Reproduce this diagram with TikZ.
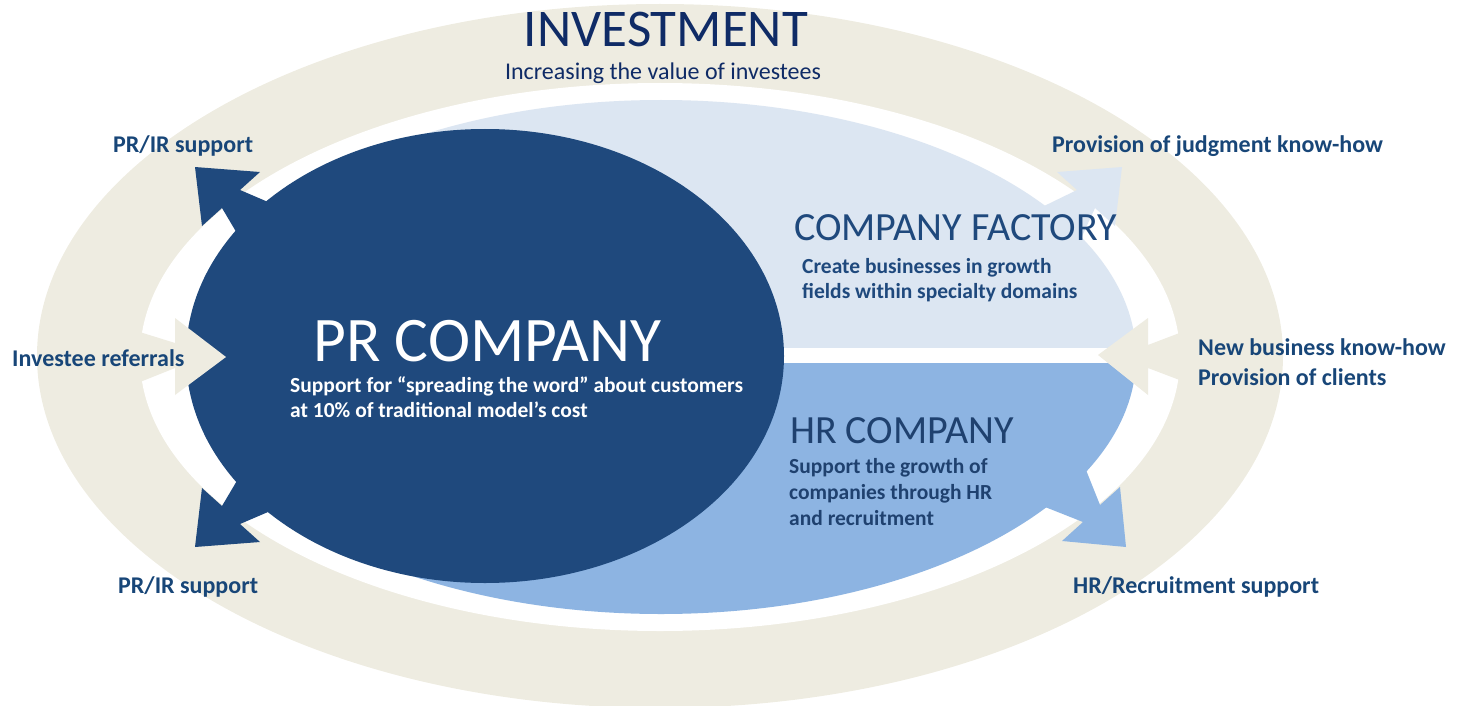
\documentclass[tikz,border=0pt]{standalone}
\usepackage{fontspec}
\setmainfont{Carlito}
\definecolor{beige}{HTML}{EEECE1}
\definecolor{darkblue}{HTML}{1F497D}
\definecolor{lightblue}{HTML}{DCE6F2}
\definecolor{medblue}{HTML}{8DB4E2}
\definecolor{navy}{HTML}{0F2B66}
\definecolor{labelblue}{HTML}{184678}
\definecolor{innertext}{HTML}{1F497D}
\definecolor{hrtext}{HTML}{1F416F}
\begin{document}
\begin{tikzpicture}[x=1pt,y=-1pt,
  lbl/.style={font=\bfseries\fontsize{24}{28}\selectfont, text=labelblue, inner sep=0pt, anchor=base west},
  body/.style={font=\bfseries\fontsize{21.5}{26}\selectfont, inner sep=0pt, anchor=base west},
  head/.style={font=\fontsize{40}{44}\selectfont, inner sep=0pt, anchor=base west},
]
\useasboundingbox (0,0) rectangle (1461,706);
% outer ring
\fill[beige] (660,356) ellipse [x radius=623pt, y radius=352pt];
\fill[white] (660,357) ellipse [x radius=520pt, y radius=274pt];
% inner split ellipse
\begin{scope}
  \clip (661,357) ellipse [x radius=475pt, y radius=257pt];
  \fill[medblue] (0,357) rectangle (1461,706);
  \fill[lightblue] (0,0) rectangle (1461,357);
  \fill[white] (600,348) rectangle (1461,363);
\end{scope}
% PR company ellipse
\fill[darkblue] (485,356) ellipse [x radius=299pt, y radius=227pt];
% dark arrows (left)
\fill[darkblue] (195,167) -- (260,172) -- (240,190) -- (268,202) -- (238,235) -- (222,208) -- (202,226) -- cycle;
\fill[darkblue] (195,547) -- (260,542) -- (240,524) -- (268,512) -- (238,479) -- (222,506) -- (202,488) -- cycle;
% light arrow (top right)
\fill[lightblue] (1122,167) -- (1057,172) -- (1077,190) -- (1040,208) -- (1060,240) -- (1078,245) -- (1095,208) -- (1115,226) -- cycle;
% medium arrow (bottom right)
\fill[medblue] (1126,547) -- (1062,541) -- (1083,522) -- (1040,505) -- (1060,474) -- (1084,465) -- (1100,505) -- (1120,487) -- cycle;
% beige arrows
\fill[beige] (1098,355) -- (1148,318) -- (1148,345) -- (1190,329) -- (1190,384) -- (1148,368) -- (1148,395) -- cycle;
\fill[beige] (226,357) -- (175,318) -- (175,343) -- (130,329) -- (130,386) -- (175,368) -- (175,395) -- cycle;
% titles
\node[font=\fontsize{53}{56}\selectfont, text=navy, inner sep=0pt, anchor=base] (inv) at (666,47) {INVESTMENT};
\node[font=\fontsize{24}{28}\selectfont, text=navy, inner sep=0pt, anchor=base] (invsub) at (663,80) {Increasing the value of investees};
% outer labels
\node[lbl] (prir1) at (113,153) {PR/IR support};
\node[lbl] (judg) at (1052,153) {Provision of judgment know-how};
\node[lbl] (refer) at (12,366) {Investee referrals};
\node[lbl] (newbiz) at (1198,355) {New business know-how};
\node[lbl] (clients) at (1198,385) {Provision of clients};
\node[lbl] (prir2) at (118,593) {PR/IR support};
\node[lbl] (hrsup) at (1073,593) {HR/Recruitment support};
% company factory
\node[head, text=innertext] (cf) at (794,240) {COMPANY FACTORY};
\node[body, text=innertext] (cf1) at (802,273) {Create businesses in growth};
\node[body, text=innertext] (cf2) at (802,298) {fields within specialty domains};
% PR company
\node[head, font=\fontsize{63.5}{66}\selectfont, text=white] (pr) at (313,361) {PR COMPANY};
\node[body, text=white] (pr1) at (290,392) {Support for “spreading the word” about customers};
\node[body, text=white] (pr2) at (290,417) {at 10\% of traditional model’s cost};
% HR company
\node[head, text=hrtext] (hr) at (790,443) {HR COMPANY};
\node[body, text=hrtext] (hr1) at (789,473) {Support the growth of};
\node[body, text=hrtext] (hr2) at (789,499) {companies through HR};
\node[body, text=hrtext] (hr3) at (789,525) {and recruitment};
\end{tikzpicture}
\end{document}
